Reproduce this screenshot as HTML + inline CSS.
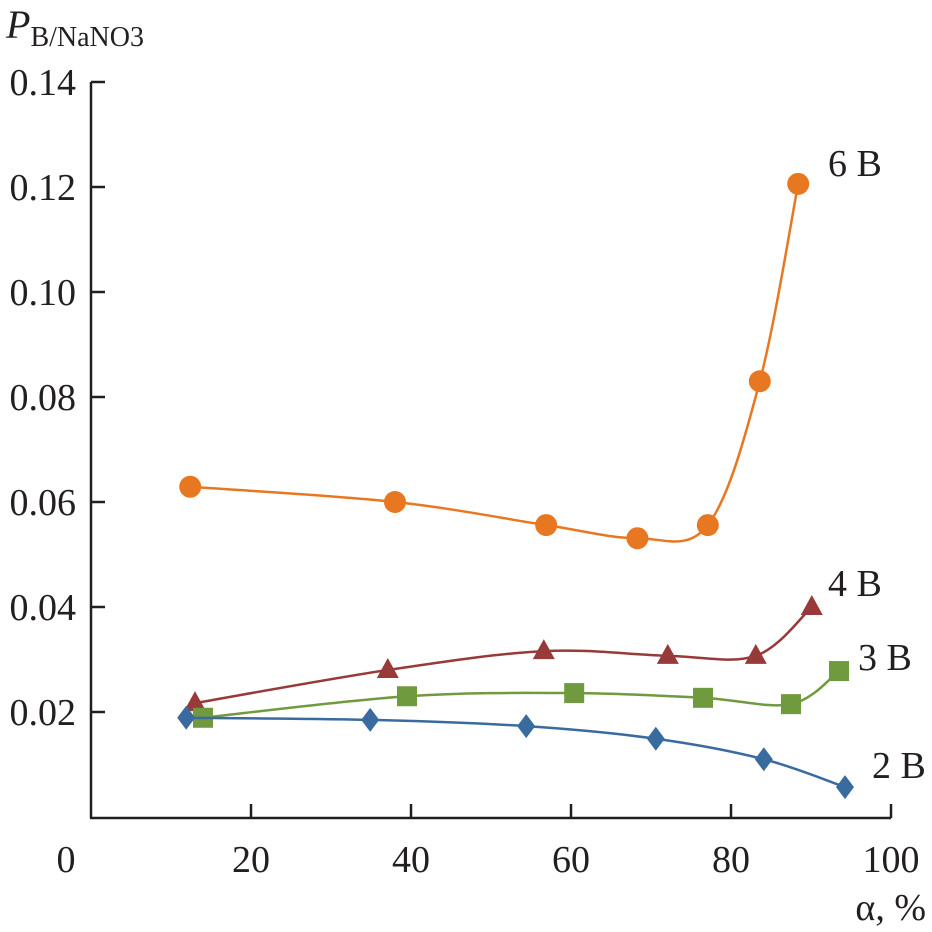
<!DOCTYPE html>
<html><head><meta charset="utf-8"><style>
body{margin:0;background:#fff}
svg text{font-family:"Liberation Serif",serif;fill:#231f20}
</style></head><body>
<svg id="chart" width="932" height="927" viewBox="0 0 932 927" xmlns="http://www.w3.org/2000/svg">
<g id="axes"></g>
<g id="series"></g>
</svg>
<script>
const xTicks=[0,20,40,60,80,100];
const yTicks=[0.02,0.04,0.06,0.08,0.10,0.12,0.14];
const yTickLabels=["0.02","0.04","0.06","0.08","0.10","0.12","0.14"];
const alpha6=[12.4,38,56.9,68.3,77.1,83.6,88.4];
const vals6=[0.0629,0.060,0.0556,0.0531,0.0556,0.083,0.1206];
const alpha4=[13,37.1,56.6,72.1,83.1,90.1];
const vals4=[0.0217,0.028,0.0316,0.0307,0.0307,0.040];
const alpha3=[14,39.5,60.4,76.5,87.5,93.5];
const vals3=[0.0189,0.023,0.0236,0.0227,0.0215,0.0278];
const alpha2=[11.9,34.9,54.4,70.6,84.1,94.25];
const vals2=[0.0189,0.0185,0.0173,0.0149,0.011,0.0057];
const seriesNames=["6 B","4 B","3 B","2 B"];

const NS="http://www.w3.org/2000/svg";
const X=a=>91+a*8;
const Y=v=>817-v*5250;
function mk(tag,attrs,parent){const e=document.createElementNS(NS,tag);for(const k in attrs)e.setAttribute(k,attrs[k]);parent.appendChild(e);return e;}
const axes=document.getElementById('axes'), ser=document.getElementById('series');

let ya=mk('line',{x1:91,y1:Y(0.14),x2:91,y2:818,stroke:'#231f20','stroke-width':2.5},axes);


let xa=mk('line',{x1:90,y1:818,x2:X(100),y2:818,stroke:'#231f20','stroke-width':2.5},axes);


yTicks.forEach((v,i)=>{
  let t=mk('line',{x1:91,y1:Y(v),x2:105,y2:Y(v),stroke:'#231f20','stroke-width':2.5},axes);
  
  
  let l=mk('text',{x:76,y:Y(v)+13,'text-anchor':'end','font-size':38},axes);
  l.textContent=yTickLabels[i];
  
  
});
xTicks.forEach(a=>{
  if(a>0){let t=mk('line',{x1:X(a),y1:818,x2:X(a),y2:804,stroke:'#231f20','stroke-width':2.5},axes);
  
  }
  let l=mk('text',{x:a===0?66:X(a),y:872,'text-anchor':'middle','font-size':38},axes);
  l.textContent=String(a);
  
  
});
let xt=mk('text',{x:926,y:920,'text-anchor':'end','font-size':38},axes);
xt.textContent='α, %';


let yt=mk('text',{x:6,y:38,'font-size':40},axes);


yt.innerHTML='<tspan font-style="italic">P</tspan><tspan font-size="28" dy="8">B/NaNO3</tspan>';

function path(xs,ys){
  const p=xs.map((a,i)=>[X(a),Y(ys[i])]);
  let d='M'+p[0][0]+','+p[0][1];
  for(let i=0;i<p.length-1;i++){
    const p0=p[Math.max(0,i-1)],p1=p[i],p2=p[i+1],p3=p[Math.min(p.length-1,i+2)];
    const c1=[p1[0]+(p2[0]-p0[0])/6,p1[1]+(p2[1]-p0[1])/6];
    const c2=[p2[0]-(p3[0]-p1[0])/6,p2[1]-(p3[1]-p1[1])/6];
    d+=' C'+c1+' '+c2+' '+p2;
  }
  return d;
}
const defs=[
 {xs:alpha6,ys:vals6,c:'#e87722',m:'circle',n:'6-b',lx:828,ly:176},
 {xs:alpha4,ys:vals4,c:'#983a3a',m:'tri',n:'4-b',lx:828,ly:596},
 {xs:alpha3,ys:vals3,c:'#6f9a3e',m:'sq',n:'3-b',lx:858,ly:670},
 {xs:alpha2,ys:vals2,c:'#3a6b9e',m:'dia',n:'2-b',lx:872,ly:778}];
defs.forEach((s,si)=>{
  const g=mk('g',{},ser);
  
  
  mk('path',{d:path(s.xs,s.ys),fill:'none',stroke:s.c,'stroke-width':2.5},g);
  s.xs.forEach((a,i)=>{
    const x=X(a),y=Y(s.ys[i]);let e;
    if(s.m==='circle')e=mk('circle',{cx:x,cy:y,r:11,fill:s.c},g);
    else if(s.m==='tri')e=mk('polygon',{points:`${x},${y-12} ${x-11},${y+8} ${x+11},${y+8}`,fill:s.c},g);
    else if(s.m==='sq')e=mk('rect',{x:x-10,y:y-10,width:20,height:20,fill:s.c},g);
    else e=mk('polygon',{points:`${x},${y-12} ${x+9},${y} ${x},${y+12} ${x-9},${y}`,fill:s.c},g);
    
    
  });
  const t=mk('text',{x:s.lx,y:s.ly,'font-size':38},g);
  t.textContent=seriesNames[si];
  
  
});
</script>
</body></html>
